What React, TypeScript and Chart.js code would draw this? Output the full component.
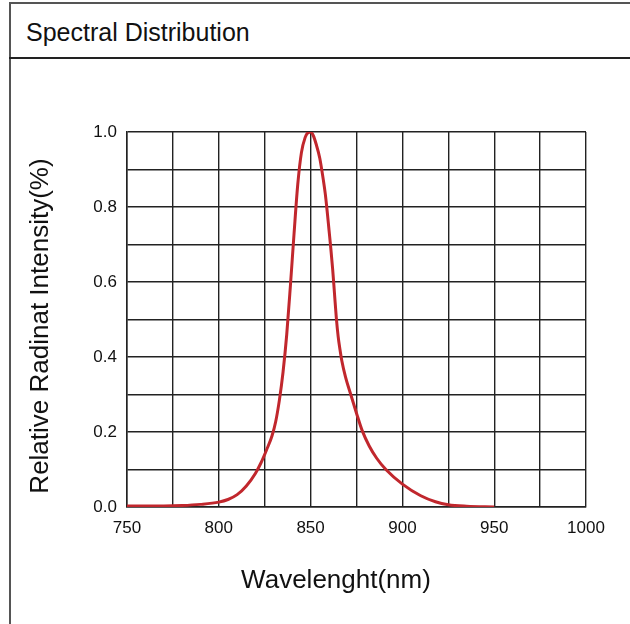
import React, { useEffect, useRef } from "react";
import { Chart, registerables } from "chart.js";

Chart.register(...registerables);

const chartTitle = "Spectral Distribution";
const xAxisTitle = "Wavelenght(nm)";
const yAxisTitle = "Relative Radinat Intensity(%)";

const wavelengths = [
  750, 760, 770, 780, 790, 800, 805, 810, 815, 820, 823, 826, 829, 831, 833, 835, 837, 839,
  841, 843, 845, 847, 848.5, 850, 851.5, 853, 855, 857, 858, 859, 860, 861, 862, 863, 864,
  865, 866, 867, 869, 872, 875, 878, 882, 886, 891, 900, 910, 918, 925, 935, 950,
];
const intensities = [
  0.003, 0.003, 0.003, 0.004, 0.007, 0.013, 0.02, 0.033, 0.056, 0.09, 0.118, 0.152, 0.19,
  0.228, 0.285, 0.36, 0.46, 0.59, 0.73, 0.86, 0.945, 0.985, 0.998, 1.0, 0.99, 0.968, 0.93,
  0.87, 0.835, 0.79, 0.74, 0.69, 0.635, 0.57, 0.505, 0.455, 0.42, 0.39, 0.347, 0.298, 0.25,
  0.205, 0.162, 0.13, 0.1, 0.061, 0.03, 0.014, 0.006, 0.002, 0.0,
];

const xMin = 750;
const xMax = 1000;
const xStep = 25;
const xLabelValues = [750, 800, 850, 900, 950, 1000];
const yMin = 0;
const yMax = 1;
const yStep = 0.1;
const yLabelValues = [0, 0.2, 0.4, 0.6, 0.8, 1.0];

const FONT = "'Liberation Sans', Arial, Helvetica, sans-serif";

export default function App() {
  const canvasRef = useRef<HTMLCanvasElement | null>(null);

  useEffect(() => {
    const canvas = canvasRef.current;
    if (!canvas) return;
    const points = wavelengths.map((w, i) => ({ x: w, y: intensities[i] }));
    const chart = new Chart(canvas, {
      type: "line",
      data: {
        datasets: [
          {
            data: points,
            borderColor: "#c1272d",
            borderWidth: 3,
            pointRadius: 0,
            fill: false,
            cubicInterpolationMode: "monotone",
          },
        ],
      },
      options: {
        responsive: false,
        animation: false,
        layout: { padding: { top: 132, right: 44, left: 0, bottom: 0 } },
        plugins: {
          legend: { display: false },
          tooltip: { enabled: false },
          title: { display: false },
        },
        scales: {
          x: {
            type: "linear",
            min: xMin,
            max: xMax,
            ticks: {
              stepSize: xStep,
              autoSkip: false,
              maxRotation: 0,
              padding: 11,
              color: "#111",
              font: { family: FONT, size: 17 },
              callback: (v: any) => (xLabelValues.some((l) => Math.abs(l - Number(v)) < 1e-6) ? String(v) : ""),
            },
            grid: { color: "#222", lineWidth: 1.4, drawTicks: false },
            border: { color: "#222", width: 1.5 },
            afterFit: (s: any) => {
              s.height = 117;
            },
          },
          y: {
            type: "linear",
            min: yMin,
            max: yMax,
            ticks: {
              stepSize: yStep,
              autoSkip: false,
              padding: 10,
              color: "#111",
              font: { family: FONT, size: 17 },
              callback: (v: any) =>
                yLabelValues.some((l) => Math.abs(l - Number(v)) < 1e-6) ? Number(v).toFixed(1) : "",
            },
            grid: { color: "#222", lineWidth: 1.4, drawTicks: false },
            border: { color: "#222", width: 1.5 },
            afterFit: (s: any) => {
              s.width = 127;
            },
          },
        },
      },
    });
    return () => chart.destroy();
  }, []);

  return (
    <div
      style={{
        position: "absolute",
        left: 0,
        top: 0,
        width: 630,
        height: 624,
        background: "#fff",
        overflow: "hidden",
        fontFamily: FONT,
        color: "#111",
      }}
    >
      <div style={{ position: "absolute", left: 9, top: 2, width: 2, height: 622, background: "#555" }} />
      <div style={{ position: "absolute", left: 9, top: 2, width: 621, height: 2, background: "#555" }} />
      <div style={{ position: "absolute", left: 9, top: 57, width: 621, height: 2, background: "#222" }} />
      <div
        style={{
          position: "absolute",
          left: 26,
          top: 20,
          fontSize: 25,
          lineHeight: "25px",
          whiteSpace: "nowrap",
        }}
      >
        {chartTitle}
      </div>
      <canvas
        ref={canvasRef}
        width={630}
        height={624}
        style={{ position: "absolute", left: 0, top: 0, width: 630, height: 624 }}
      />
      <div
        style={{
          position: "absolute",
          left: 136,
          top: 566,
          width: 400,
          textAlign: "center",
          fontSize: 26,
          lineHeight: "26px",
          whiteSpace: "nowrap",
        }}
      >
        {xAxisTitle}
      </div>
      <div
        style={{
          position: "absolute",
          left: 38.6 - 200,
          top: 326 - 13,
          width: 400,
          height: 26,
          textAlign: "center",
          fontSize: 26,
          lineHeight: "26px",
          whiteSpace: "nowrap",
          transform: "rotate(-90deg)",
          transformOrigin: "50% 50%",
        }}
      >
        {yAxisTitle}
      </div>
    </div>
  );
}
